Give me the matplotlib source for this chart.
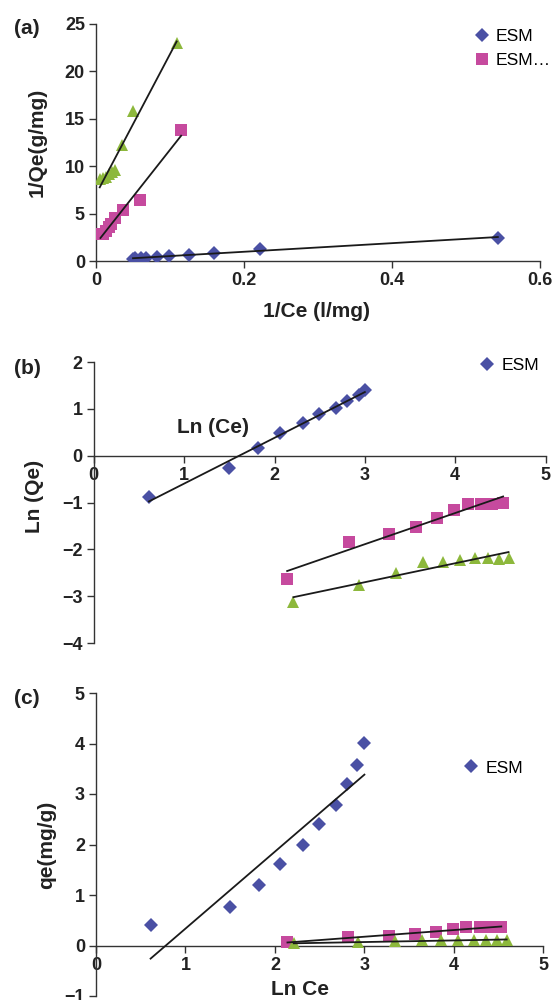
import numpy as np
import matplotlib.pyplot as plt

plt.rcParams['font.family'] = ['Liberation Sans', 'DejaVu Sans']
plt.rcParams['font.weight'] = 'bold'

BLUE = '#4a50a4'
PINK = '#c64a9e'
GREEN = '#8db83c'

# (a) Langmuir: 1/Ce vs 1/Qe
a_x_esm = [0.050, 0.053, 0.061, 0.068, 0.083, 0.099, 0.125, 0.160, 0.222, 0.543]
a_y_esm = [0.25, 0.28, 0.31, 0.36, 0.41, 0.50, 0.61, 0.84, 1.30, 2.45]
a_x_pink = [0.006, 0.010, 0.014, 0.017, 0.020, 0.026, 0.036, 0.059, 0.115]
a_y_pink = [2.9, 2.8, 3.2, 3.6, 3.9, 4.5, 5.4, 6.4, 13.8]
a_x_green = [0.005, 0.009, 0.013, 0.017, 0.022, 0.026, 0.035, 0.050, 0.109]
a_y_green = [8.7, 8.8, 8.9, 9.2, 9.4, 9.6, 12.2, 15.8, 23.0]

# (b) Freundlich: Ln Ce vs Ln Qe
b_x_esm = [0.61, 1.50, 1.82, 2.06, 2.31, 2.49, 2.68, 2.80, 2.93, 3.00]
b_y_esm = [-0.89, -0.26, 0.17, 0.49, 0.70, 0.88, 1.02, 1.16, 1.29, 1.40]
b_x_pink = [2.14, 2.82, 3.27, 3.57, 3.80, 3.99, 4.14, 4.29, 4.41, 4.53]
b_y_pink = [-2.63, -1.85, -1.68, -1.52, -1.33, -1.15, -1.03, -1.03, -1.03, -1.02]
b_x_green = [2.21, 2.93, 3.34, 3.64, 3.86, 4.05, 4.22, 4.36, 4.48, 4.59]
b_y_green = [-3.13, -2.77, -2.51, -2.26, -2.26, -2.23, -2.19, -2.18, -2.20, -2.18]

# (c) Temkin: Ln Ce vs qe
c_x_esm = [0.61, 1.50, 1.82, 2.06, 2.31, 2.49, 2.68, 2.80, 2.92, 3.00]
c_y_esm = [0.41, 0.77, 1.19, 1.61, 2.00, 2.40, 2.78, 3.19, 3.57, 4.01]
c_x_pink = [2.14, 2.82, 3.27, 3.57, 3.80, 3.99, 4.14, 4.29, 4.41, 4.53]
c_y_pink = [0.07, 0.16, 0.19, 0.22, 0.26, 0.32, 0.36, 0.36, 0.36, 0.36]
c_x_green = [2.21, 2.93, 3.34, 3.64, 3.86, 4.05, 4.22, 4.36, 4.48, 4.59]
c_y_green = [0.04, 0.06, 0.08, 0.10, 0.10, 0.11, 0.11, 0.11, 0.11, 0.11]

TICK_FS = 13
LAB_FS = 15
bold = dict(fontweight='bold', fontsize=LAB_FS, color='#222222')
leg_font = dict(size=12.6, weight='normal')


def series(ax, x, y, marker, color, ms, label=None):
    x = np.array(x)
    y = np.array(y)
    ax.plot(x, y, linestyle='none', marker=marker, color=color, ms=ms,
            markeredgewidth=0, label=label, zorder=3)
    k, b = np.polyfit(x, y, 1)
    xx = np.array([x.min(), x.max()])
    ax.plot(xx, k * xx + b, color='#1a1a1a', lw=1.3, zorder=4)


def style(ax):
    for s in ['top', 'right']:
        ax.spines[s].set_visible(False)
    for s in ['left', 'bottom']:
        ax.spines[s].set_linewidth(1.0)
        ax.spines[s].set_color('#333333')
    ax.tick_params(length=5, width=1.0, color='#333333', labelsize=TICK_FS,
                   labelcolor='#222222', pad=3)


fig = plt.figure(figsize=(5.55, 10), dpi=100)

# ---- (a)
ax1 = fig.add_axes([0.173, 0.739, 0.80, 0.237])
series(ax1, a_x_esm, a_y_esm, 'D', BLUE, 7, 'ESM')
series(ax1, a_x_pink, a_y_pink, 's', PINK, 8, 'ESM\u2026')
series(ax1, a_x_green, a_y_green, '^', GREEN, 8.5)
ax1.set_xlim(0, 0.6)
ax1.set_ylim(0, 25)
ax1.set_xticks([0, 0.2, 0.4, 0.6])
ax1.set_xticklabels(['0', '0.2', '0.4', '0.6'])
ax1.set_yticks([0, 5, 10, 15, 20, 25])
style(ax1)
ax1.text(0.497, -0.211, '1/Ce (l/mg)', transform=ax1.transAxes,
         ha='center', va='center', **bold)
ax1.set_ylabel('1/Qe(g/mg)', va='center', **bold)
ax1.yaxis.set_label_coords(-0.133, 0.5)
ax1.legend(loc='upper right', bbox_to_anchor=(1.06, 1.045), frameon=False,
           prop=leg_font, handletextpad=0.3, handlelength=1.0, labelspacing=0.5)
fig.text(0.025, 0.972, '(a)', va='center', **bold)

# ---- (b)
ax2 = fig.add_axes([0.169, 0.357, 0.814, 0.281])
series(ax2, b_x_esm, b_y_esm, 'D', BLUE, 7, 'ESM')
series(ax2, b_x_pink, b_y_pink, 's', PINK, 8)
series(ax2, b_x_green, b_y_green, '^', GREEN, 8.5)
ax2.set_xlim(0, 5)
ax2.set_ylim(-4, 2)
ax2.set_yticks([-4, -3, -2, -1, 0, 1, 2])
ax2.set_yticklabels(['\u22124', '\u22123', '\u22122', '\u22121', '0', '1', '2'])
ax2.spines['bottom'].set_position(('data', 0))
style(ax2)
ax2.set_ylabel('Ln (Qe)', va='center', **bold)
ax2.yaxis.set_label_coords(-0.131, 0.52)
ax2.text(1.32, 0.61, 'Ln (Ce)', ha='center', va='center', **bold)
ax2.legend(loc='upper right', bbox_to_anchor=(1.02, 1.07), frameon=False,
           prop=leg_font, handletextpad=0.3, handlelength=1.0)
fig.text(0.025, 0.632, '(b)', va='center', **bold)

# ---- (c)
ax3 = fig.add_axes([0.173, 0.004, 0.806, 0.303])
series(ax3, c_x_esm, c_y_esm, 'D', BLUE, 7, 'ESM')
series(ax3, c_x_pink, c_y_pink, 's', PINK, 8)
series(ax3, c_x_green, c_y_green, '^', GREEN, 8.5)
ax3.set_xlim(0, 5)
ax3.set_ylim(-1, 5)
ax3.set_yticks([-1, 0, 1, 2, 3, 4, 5])
ax3.set_yticklabels(['\u22121', '0', '1', '2', '3', '4', '5'])
ax3.spines['bottom'].set_position(('data', 0))
style(ax3)
ax3.set_ylabel('qe(mg/g)', va='center', **bold)
ax3.yaxis.set_label_coords(-0.11, 0.5)
ax3.text(0.456, 0.02, 'Ln Ce', transform=ax3.transAxes, ha='center',
         va='center', **bold)
ax3.legend(loc='upper right', bbox_to_anchor=(0.99, 0.83), frameon=False,
           prop=leg_font, handletextpad=0.3, handlelength=1.0)
fig.text(0.025, 0.302, '(c)', va='center', **bold)

fig.savefig('out.png', dpi=100)
